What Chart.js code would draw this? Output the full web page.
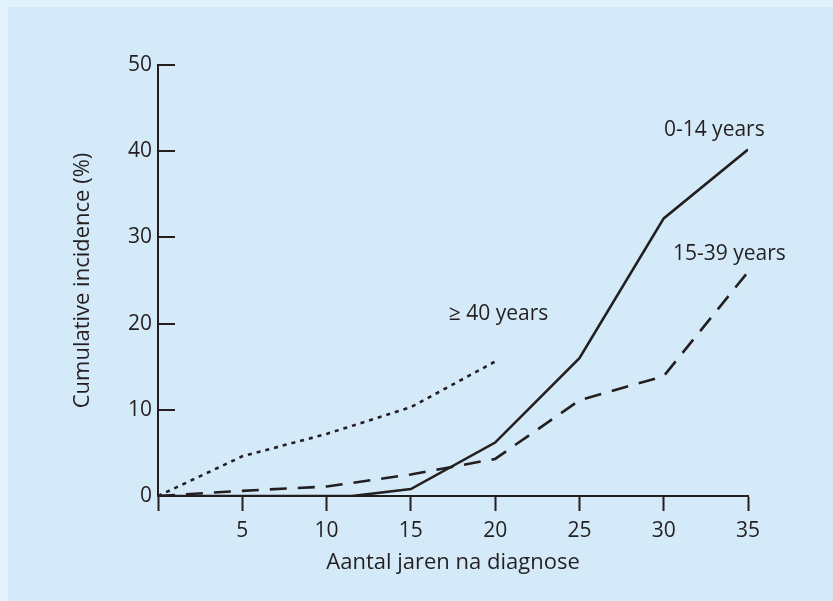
<!DOCTYPE html>
<html>
<head>
<meta charset="utf-8">
<script src="https://cdn.jsdelivr.net/npm/chart.js@4.4.1/dist/chart.umd.min.js"></script>
<style>
  html, body { margin: 0; padding: 0; background: #e1f2fb; }
  #wrap { position: absolute; left: 0; top: 0; width: 833px; height: 601px; }
</style>
</head>
<body>
<div id="wrap"><canvas id="c" width="833" height="601"></canvas></div>
<script>
// ---- data ----
const xTicks = [0, 5, 10, 15, 20, 25, 30, 35];
const yTicks = [0, 10, 20, 30, 40, 50];

const years0to14 = [0, 5, 10, 11.5, 15, 20, 25, 30, 35];
const incidence0to14 = [0, 0, 0, 0, 0.8, 6.2, 16, 32.2, 40.2];

const years15to39 = [0, 5, 10, 15, 20, 25, 30, 35];
const incidence15to39 = [0, 0.6, 1.1, 2.5, 4.3, 11.1, 13.9, 26];

const years40plus = [0, 5, 10, 15, 20];
const incidence40plus = [0, 4.6, 7.2, 10.3, 15.6];

const seriesLabels = ['0-14 years', '15-39 years', '\u2265 40 years'];
const labelAnchors = [[33.0, 42.5], [33.9, 28.1], [20.2, 21.1]];

const xTitle = 'Aantal jaren na diagnose';
const yTitle = 'Cumulative incidence (%)';

// ---- chart ----
const INK = '#231f20';
const FONT = "'Open Sans', sans-serif";
const FS = 21;
const FT = 22;

function pts(xs, ys) { return xs.map((x, i) => ({ x: x, y: ys[i] })); }

const bgPlugin = {
  id: 'bg',
  beforeDraw(chart) {
    const ctx = chart.ctx;
    ctx.save();
    ctx.fillStyle = '#e1f2fb';
    ctx.fillRect(0, 0, chart.width, chart.height);
    ctx.fillStyle = '#d4eaf8';
    ctx.fillRect(8, 7, chart.width - 8, chart.height - 7);
    ctx.restore();
  }
};

const axisPlugin = {
  id: 'innerTicks',
  afterDraw(chart) {
    const ctx = chart.ctx;
    const y = chart.scales.y, x = chart.scales.x;
    ctx.save();
    ctx.strokeStyle = INK;
    ctx.lineWidth = 2;
    yTicks.forEach(v => {
      if (v === 0) return;
      const py = Math.round(y.getPixelForValue(v));
      ctx.beginPath();
      ctx.moveTo(x.left, py);
      ctx.lineTo(x.left + 17, py);
      ctx.stroke();
    });
    // series labels
    ctx.fillStyle = INK;
    ctx.font = FS + "px " + FONT;
    ctx.textAlign = 'center';
    ctx.textBaseline = 'middle';
    seriesLabels.forEach((t, i) => {
      ctx.fillText(t, x.getPixelForValue(labelAnchors[i][0]), y.getPixelForValue(labelAnchors[i][1]));
    });
    ctx.restore();
  }
};

new Chart(document.getElementById('c'), {
  type: 'line',
  data: {
    datasets: [
      { label: seriesLabels[0], data: pts(years0to14, incidence0to14), borderColor: INK, borderWidth: 2.6, pointRadius: 0, tension: 0, fill: false },
      { label: seriesLabels[1], data: pts(years15to39, incidence15to39), borderColor: INK, borderWidth: 2.6, borderDash: [17, 11], pointRadius: 0, tension: 0, fill: false },
      { label: seriesLabels[2], data: pts(years40plus, incidence40plus), borderColor: INK, borderWidth: 2.6, borderDash: [4, 5], pointRadius: 0, tension: 0, fill: false }
    ]
  },
  options: {
    responsive: false,
    animation: false,
    events: [],
    layout: { padding: { left: 40, right: 85, top: 65, bottom: 20 } },
    plugins: { legend: { display: false }, tooltip: { enabled: false } },
    scales: {
      x: {
        type: 'linear', min: 0, max: 35,
        afterBuildTicks(s) { s.ticks = xTicks.map(v => ({ value: v })); },
        afterFit(s) { s.height = 601 - 496 - 20; },
        ticks: { color: INK, font: { family: FONT, size: FS }, padding: 7,
                 callback: v => (v === 0 ? '' : String(v)) },
        grid: { display: true, drawOnChartArea: false, drawTicks: true, tickLength: 15, tickWidth: 2, tickColor: INK },
        border: { display: true, color: INK, width: 2 },
        title: { display: true, text: xTitle, color: INK, font: { family: FONT, size: FT }, padding: { top: 0, bottom: 5 } }
      },
      y: {
        type: 'linear', min: 0, max: 50,
        afterBuildTicks(s) { s.ticks = yTicks.map(v => ({ value: v })); },
        afterFit(s) { s.width = 158 - 40; },
        ticks: { color: INK, font: { family: FONT, size: FS }, padding: 6 },
        grid: { display: false, drawTicks: false },
        border: { display: true, color: INK, width: 2 },
        title: { display: true, text: yTitle, color: INK, font: { family: FONT, size: FT }, padding: { top: 30, bottom: 0 } }
      }
    }
  },
  plugins: [bgPlugin, axisPlugin]
});
</script>
</body>
</html>
